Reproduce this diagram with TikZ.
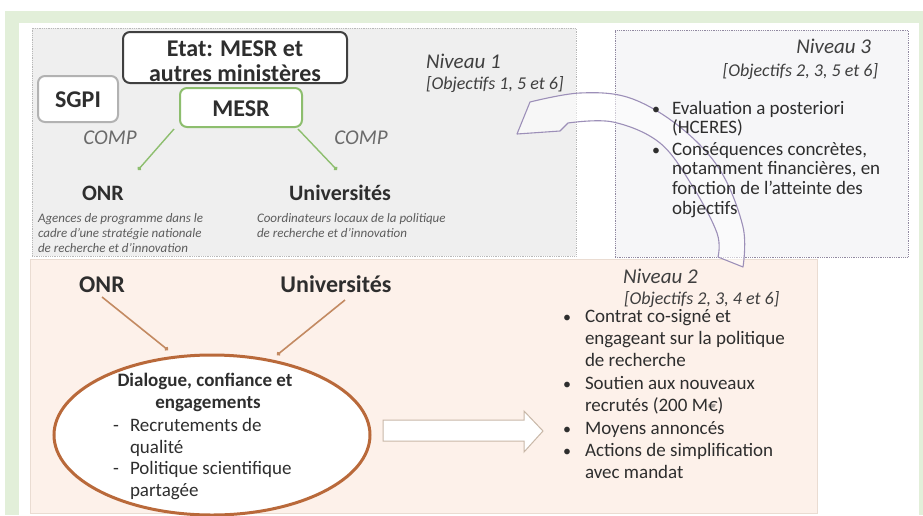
\documentclass[tikz,border=0pt]{standalone}
\usepackage{fontspec}
\setmainfont{Carlito}
\usetikzlibrary{arrows.meta,shapes.geometric}
\definecolor{bandgreen}{HTML}{E2EFD9}
\definecolor{lvlonefill}{HTML}{EFEFEF}
\definecolor{lvlthreefill}{HTML}{F6F6F8}
\definecolor{peach}{HTML}{FDF1EA}
\definecolor{peachline}{HTML}{EADCD2}
\definecolor{txt}{HTML}{2E2E2E}
\definecolor{headtxt}{HTML}{3F3F3F}
\definecolor{compgray}{HTML}{6A6A6A}
\definecolor{greenline}{HTML}{8DBE6E}
\definecolor{orangeline}{HTML}{C38A62}
\definecolor{ellborder}{HTML}{B9693A}
\definecolor{arrowpurple}{HTML}{9C8FB8}
\definecolor{blockline}{HTML}{C9B8A8}
\newcommand\myfs[1]{\fontsize{#1}{#1}\selectfont}
\tikzset{
  lbl/.style={inner sep=0pt, outer sep=0pt, text=txt},
  bodyline/.style={lbl, font=\myfs{19}, anchor=base west},
  bulletmark/.style={lbl, font=\myfs{16}, anchor=base west},
  headnum/.style={lbl, text=headtxt, font=\myfs{21}\itshape},
  headobj/.style={lbl, text=headtxt, font=\myfs{18}\itshape},
  boldlabel/.style={lbl, font=\myfs{23}\bfseries, anchor=base},
  complabel/.style={lbl, text=compgray, font=\myfs{21}\itshape, anchor=base},
  smallit/.style={lbl, text=headtxt!85, font=\myfs{13}\itshape, anchor=base west},
  panel/.style={inner sep=0pt, outer sep=0pt, densely dotted, line width=0.8pt},
  rbox/.style={draw, fill=white, rounded corners=7pt, line width=2pt, inner sep=0pt},
  greenarrow/.style={draw=greenline, line width=1.4pt, -{Circle[length=4pt]}},
  orangearrow/.style={draw=orangeline, line width=1.6pt, -{Circle[length=4pt]}},
}
\begin{document}
\begin{tikzpicture}[x=1pt,y=-1pt]
\useasboundingbox (0,0) rectangle (923,515);
% frame
\fill[white] (0,0) rectangle (923,515);
\fill[bandgreen] (5,11) rectangle (923,515);
\fill[white] (19,23) rectangle (919,515);
% panels
\node[panel, draw=gray!55, fill=lvlonefill, minimum width=544pt, minimum height=228pt] (lvlone) at (304,142) {};
\node[panel, draw=arrowpurple!60!gray, fill=lvlthreefill, minimum width=293pt, minimum height=227pt] (lvlthree) at (761.5,143.5) {};
\node[inner sep=0pt, outer sep=0pt, draw=peachline, line width=0.6pt, fill=peach, minimum width=787pt, minimum height=254pt] (lvltwo) at (423.5,386) {};
% curved block arrow (Niveau 3 -> Niveau 1)
\path[draw=arrowpurple, line width=1.1pt, fill=white, fill opacity=0.55, line join=round]
  plot[smooth, tension=0.6] coordinates {(743,267) (743,227) (720,170) (680,127) (630,98) (580,93) (530,102)}
  -- (517,134) -- (560,131) -- (568,123)
  -- plot[smooth, tension=0.6] coordinates {(568,123) (613,122) (660,143) (693,187) (717,233) (718,257)}
  -- cycle;
% top boxes
\node[rbox, draw=black!75, minimum width=224pt, minimum height=51pt] (etat) at (235,57.5) {};
\node[rbox, draw=gray!60, minimum width=80pt, minimum height=46pt] (sgpi) at (78,99) {};
\node[rbox, draw=greenline, minimum width=122pt, minimum height=39pt] (mesr) at (241,107.5) {};
\node[boldlabel, font=\myfs{24}\bfseries] (etatA) at (235,56) {Etat: MESR et};
\node[boldlabel, font=\myfs{24}\bfseries] (etatB) at (235,81) {autres ministères};
\node[boldlabel, font=\myfs{24}\bfseries] (sgpitxt) at (78,107) {SGPI};
\node[boldlabel, font=\myfs{24}\bfseries] (mesrtxt) at (241,116) {MESR};
\node[complabel] (compA) at (110,144) {COMP};
\node[complabel] (compB) at (361,144) {COMP};
\node[boldlabel, font=\myfs{22}\bfseries] (onrA) at (103,200) {ONR};
\node[boldlabel, font=\myfs{22}\bfseries] (univA) at (340,200) {Universités};
\node[smallit] (onrdA) at (38,222) {Agences de programme dans le};
\node[smallit] (onrdB) at (38,237) {cadre d’une stratégie nationale};
\node[smallit] (onrdC) at (38,252) {de recherche et d’innovation};
\node[smallit] (univdA) at (257,222) {Coordinateurs locaux de la politique};
\node[smallit] (univdB) at (257,237) {de recherche et d’innovation};
\coordinate (glstart) at (174,129);
\coordinate (glend) at (138,170);
\coordinate (grstart) at (298,129);
\coordinate (grend) at (337,170);
\draw[greenarrow] (glstart) -- (glend);
\draw[greenarrow] (grstart) -- (grend);
% Niveau 1 heading
\node[headnum, anchor=base west] (nivone) at (426,68) {Niveau 1};
\node[headobj, anchor=base west] (objone) at (426,89) {[Objectifs 1, 5 et 6]};
% Niveau 3
\node[headnum, anchor=base east] (nivthree) at (871,53) {Niveau 3};
\node[headobj, anchor=base east] (objthree) at (878,76) {[Objectifs 2, 3, 5 et 6]};
\node[bulletmark] (bthreeA) at (652,114) {•};
\node[bulletmark] (bthreeB) at (652,155) {•};
\foreach \yy/\tt [count=\i] in {114/{Evaluation a posteriori}, 133/{(HCERES)}, 155/{Conséquences concrètes,}, 174/{notamment financières, en}, 194/{fonction de l’atteinte des}, 214/{objectifs}}
  \node[bodyline] (tthree\i) at (672,\yy) {\tt};
% Niveau 2 (bottom)
\node[boldlabel, font=\myfs{24}\bfseries] (onrB) at (102,292) {ONR};
\node[boldlabel, font=\myfs{24}\bfseries] (univB) at (336,292) {Universités};
\node[draw=ellborder, line width=3pt, fill=white, ellipse, minimum width=316pt, minimum height=160pt, inner sep=0pt] (dialog) at (212,435) {};
\coordinate (olstart) at (102,297);
\coordinate (olend) at (168,350);
\coordinate (orstart) at (345,300);
\coordinate (orend) at (277,355);
\draw[orangearrow] (olstart) -- (olend);
\draw[orangearrow] (orstart) -- (orend);
\node[lbl, font=\myfs{19}\bfseries, anchor=base] (dlgA) at (205,386) {Dialogue, confiance et};
\node[lbl, font=\myfs{19}\bfseries, anchor=base] (dlgB) at (208,408) {engagements};
\node[bulletmark, font=\myfs{19}] (dashA) at (113,431) {-};
\node[bulletmark, font=\myfs{19}] (dashB) at (113,474) {-};
\node[bodyline] (dlgC) at (130,431) {Recrutements de};
\node[bodyline] (dlgD) at (130,453) {qualité};
\node[bodyline] (dlgE) at (130,474) {Politique scientifique};
\node[bodyline] (dlgF) at (130,496) {partagée};
% straight block arrow
\path[draw=blockline, line width=1pt, fill=white, line join=miter]
  (383,420) -- (524,420) -- (524,411) -- (543,431) -- (524,452) -- (524,441) -- (383,441) -- cycle;
\node[headnum, anchor=base west] (nivtwo) at (623,283) {Niveau 2};
\node[headobj, anchor=base west] (objtwo) at (624,304) {[Objectifs 2, 3, 4 et 6]};
\foreach \yy [count=\i] in {322,389,434,456}
  \node[bulletmark] (btwo\i) at (563,\yy) {•};
\foreach \yy/\tt [count=\i] in {322/{Contrat co-signé et}, 344/{engageant sur la politique}, 366/{de recherche}, 389/{Soutien aux nouveaux}, 411/{recrutés (200 M€)}, 434/{Moyens annoncés}, 456/{Actions de simplification}, 478/{avec mandat}}
  \node[bodyline] (ttwo\i) at (585,\yy) {\tt};
\end{tikzpicture}
\end{document}
